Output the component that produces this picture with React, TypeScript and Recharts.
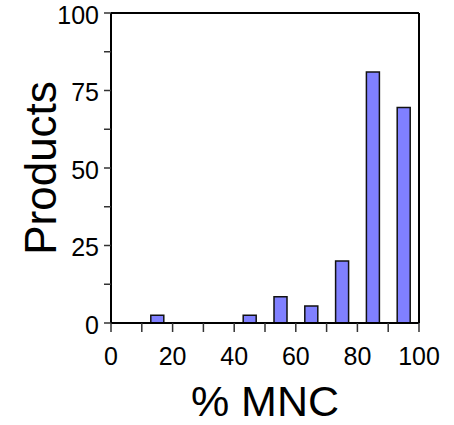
import { Bar, BarChart, ReferenceLine, XAxis, YAxis } from "recharts";

// histogram bins (bin centre in % MNC) and product counts
const binCentres = [5, 15, 25, 35, 45, 55, 65, 75, 85, 95];
const productCounts = [0, 2.5, 0, 0, 2.5, 8.5, 5.5, 20, 81, 69.5];

const xTicks = [0, 10, 20, 30, 40, 50, 60, 70, 80, 90, 100];
const yTicks = [0, 12.5, 25, 37.5, 50, 62.5, 75, 87.5, 100];

const data = binCentres.map((bin, i) => ({ bin, count: productCounts[i] }));

const FONT = "'Liberation Sans', Arial, Helvetica, sans-serif";

function App() {
  return (
    <div style={{ position: "absolute", left: 0, top: 0, fontFamily: FONT }}>
      <BarChart
        width={454}
        height={425}
        data={data}
        margin={{ top: 13, right: 35, bottom: 0, left: 0 }}
      >
        <XAxis
          dataKey="bin"
          type="number"
          domain={[0, 100]}
          ticks={xTicks}
          interval={0}
          height={102}
          axisLine={{ stroke: "#000", strokeWidth: 2 }}
          tickLine={{ stroke: "#333", strokeWidth: 1.5 }}
          tickSize={9}
          tickMargin={15}
          tickFormatter={(v: number) => (v % 20 === 0 ? String(v) : "")}
          tick={{ fill: "#000", fontSize: 25, fontFamily: FONT }}
          label={{
            value: "% MNC",
            position: "insideBottom",
            offset: 9,
            fill: "#000",
            fontSize: 43,
            fontFamily: FONT,
          }}
        />
        <YAxis
          type="number"
          domain={[0, 100]}
          ticks={yTicks}
          interval={0}
          width={111}
          axisLine={{ stroke: "#000", strokeWidth: 2 }}
          tickLine={{ stroke: "#333", strokeWidth: 1.5 }}
          tickSize={7}
          tickMargin={5}
          tickFormatter={(v: number) => (v % 25 === 0 ? String(v) : "")}
          tick={{ fill: "#000", fontSize: 25, fontFamily: FONT, dy: 2 }}
          label={{
            value: "Products",
            angle: -90,
            position: "insideLeft",
            offset: 40,
            fill: "#000",
            fontSize: 44,
            fontFamily: FONT,
            style: { textAnchor: "middle" },
          }}
        />
        <ReferenceLine y={100} stroke="#000" strokeWidth={2} />
        <ReferenceLine x={100} stroke="#000" strokeWidth={2} />
        <Bar
          dataKey="count"
          barSize={13}
          fill="#8080ff"
          stroke="#111"
          strokeWidth={1.5}
          isAnimationActive={false}
        />
      </BarChart>
    </div>
  );
}

export default App;
